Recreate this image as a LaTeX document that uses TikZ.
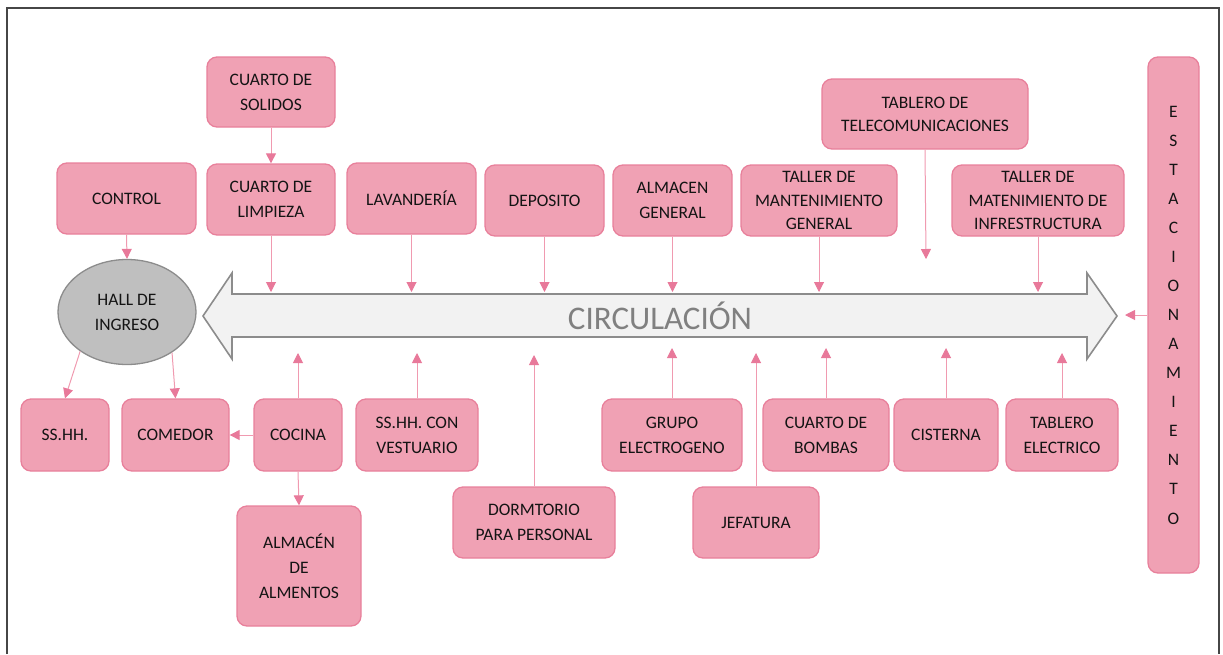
\documentclass[tikz,border=0pt]{standalone}
\usepackage{fontspec}
\setmainfont{Carlito}
\usetikzlibrary{arrows.meta,shapes.geometric}
\definecolor{boxfill}{HTML}{F0A1B4}
\definecolor{boxline}{HTML}{E8809B}
\definecolor{conline}{HTML}{F09AB0}
\definecolor{contip}{HTML}{E8799A}
\definecolor{circfill}{HTML}{F2F2F2}
\definecolor{circline}{HTML}{8C8C8C}
\definecolor{hallfill}{HTML}{BFBFBF}
\definecolor{txt}{HTML}{141414}
\tikzset{
  box/.style={draw=boxline, fill=boxfill, line width=1.3pt, rounded corners=10pt,
    align=center, text=txt, inner sep=2pt,
    font=\fontsize{17.5}{25}\selectfont},
  conn/.style={draw=conline, line width=1pt,
    -{Triangle[length=10pt,width=10pt,color=contip]}},
}
\begin{document}
\begin{tikzpicture}[x=1pt,y=-1pt]
\useasboundingbox (0,0) rectangle (1223,654);
% outer frame
\draw[line width=2pt, draw={rgb,255:red,70;green,70;blue,70}] (7,654) -- (7,8) -- (1219,8) -- (1219,654);
% circulation arrow
\draw[fill=circfill, draw=circline, line width=1.6pt, line join=miter]
  (203,316) -- (232,273) -- (232,294) -- (1087,294) -- (1087,273) -- (1117,316)
  -- (1087,359) -- (1087,337) -- (232,337) -- (232,359) -- cycle;
\node[text={rgb,255:red,128;green,128;blue,128}, font=\fontsize{33}{38}\selectfont] (circ) at (660,316) {CIRCULACIÓN};

% top row
\node[box, minimum width=128pt, minimum height=70pt] (solidos) at (271,92) {CUARTO DE\\SOLIDOS};
\node[box, minimum width=139pt, minimum height=71pt] (control) at (126.5,198.5) {CONTROL};
\node[box, minimum width=128pt, minimum height=71pt] (limpieza) at (271,199.5) {CUARTO DE\\LIMPIEZA};
\node[box, minimum width=129pt, minimum height=71pt] (lavanderia) at (411.5,198.5) {LAVANDERÍA};
\node[box, minimum width=119pt, minimum height=71pt] (deposito) at (544.5,200.5) {DEPOSITO};
\node[box, minimum width=119pt, minimum height=71pt] (almacen) at (672.5,200.5) {ALMACEN\\GENERAL};
\node[box, minimum width=156pt, minimum height=71pt, font=\fontsize{17.5}{23.3}\selectfont] (tallermg) at (819,200.5) {TALLER DE\\MANTENIMIENTO\\GENERAL};
\node[box, minimum width=206pt, minimum height=70pt, font=\fontsize{17.5}{23}\selectfont] (telecom) at (925,114) {TABLERO DE\\TELECOMUNICACIONES};
\node[box, minimum width=172pt, minimum height=71pt, font=\fontsize{17.5}{23.3}\selectfont] (tallerinf) at (1038,200.5) {TALLER DE\\MATENIMIENTO DE\\INFRESTRUCTURA};
\node[box, minimum width=51pt, minimum height=516pt, font=\fontsize{17.5}{29.07}\selectfont] (estac) at (1173.5,315) {E\\S\\T\\A\\C\\I\\O\\N\\A\\M\\I\\E\\N\\T\\O};

% hall
\node[ellipse, draw=circline, fill=hallfill, line width=1.3pt, minimum width=138pt, minimum height=105pt,
  align=center, text=txt, font=\fontsize{17.5}{25}\selectfont, inner sep=0pt] (hall) at (127,312) {HALL DE\\INGRESO};

% bottom row
\node[box, minimum width=88pt, minimum height=72pt] (sshh) at (65,435) {SS.HH.};
\node[box, minimum width=107pt, minimum height=72pt] (comedor) at (175.5,435) {COMEDOR};
\node[box, minimum width=88pt, minimum height=72pt] (cocina) at (298,435) {COCINA};
\node[box, minimum width=122pt, minimum height=72pt] (vestuario) at (417,435) {SS.HH. CON\\VESTUARIO};
\node[box, minimum width=124pt, minimum height=120pt] (alimentos) at (299,566) {ALMACÉN\\DE\\ALMENTOS};
\node[box, minimum width=162pt, minimum height=71pt] (dormitorio) at (534,522.5) {DORMTORIO\\PARA PERSONAL};
\node[box, minimum width=140pt, minimum height=72pt] (grupo) at (672,435) {GRUPO\\ELECTROGENO};
\node[box, minimum width=126pt, minimum height=71pt] (jefatura) at (756,522.5) {JEFATURA};
\node[box, minimum width=126pt, minimum height=72pt] (bombas) at (826,435) {CUARTO DE\\BOMBAS};
\node[box, minimum width=104pt, minimum height=72pt] (cisterna) at (946,435) {CISTERNA};
\node[box, minimum width=112pt, minimum height=72pt] (tablero) at (1062,435) {TABLERO\\ELECTRICO};

% tip coordinates
\coordinate (ttop) at (0,292);
\coordinate (tele) at (926,259);
\coordinate (etip) at (1125,315);
\coordinate (bA) at (0,353);
\coordinate (bB) at (0,348);
\coordinate (bC) at (0,355);

% connectors top
\draw[conn] (solidos.south) -- (limpieza.north);
\draw[conn] (control.south) -- (hall.north);
\draw[conn] (limpieza.south) -- (limpieza.south |- ttop);
\draw[conn] (lavanderia.south) -- (lavanderia.south |- ttop);
\draw[conn] (deposito.south) -- (deposito.south |- ttop);
\draw[conn] (almacen.south) -- (almacen.south |- ttop);
\draw[conn] (tallermg.south) -- (tallermg.south |- ttop);
\draw[conn] (telecom.south) -- (tele);
\draw[conn] (tallerinf.south) -- (tallerinf.south |- ttop);
\draw[conn] (estac.west) -- (etip);

% connectors bottom
\draw[conn] (hall.220) -- (sshh.north);
\draw[conn] (hall.318) -- (comedor.north);
\draw[conn] (cocina.west) -- (comedor.east);
\draw[conn] (cocina.south) -- (alimentos.north);
\draw[conn] (cocina.north) -- (cocina.north |- bA);
\draw[conn] (vestuario.north) -- (vestuario.north |- bA);
\draw[conn] (dormitorio.north) -- (dormitorio.north |- bC);
\draw[conn] (grupo.north) -- (grupo.north |- bB);
\draw[conn] (jefatura.north) -- (jefatura.north |- bA);
\draw[conn] (bombas.north) -- (bombas.north |- bB);
\draw[conn] (cisterna.north) -- (cisterna.north |- bB);
\draw[conn] (tablero.north) -- (tablero.north |- bA);
\end{tikzpicture}
\end{document}
